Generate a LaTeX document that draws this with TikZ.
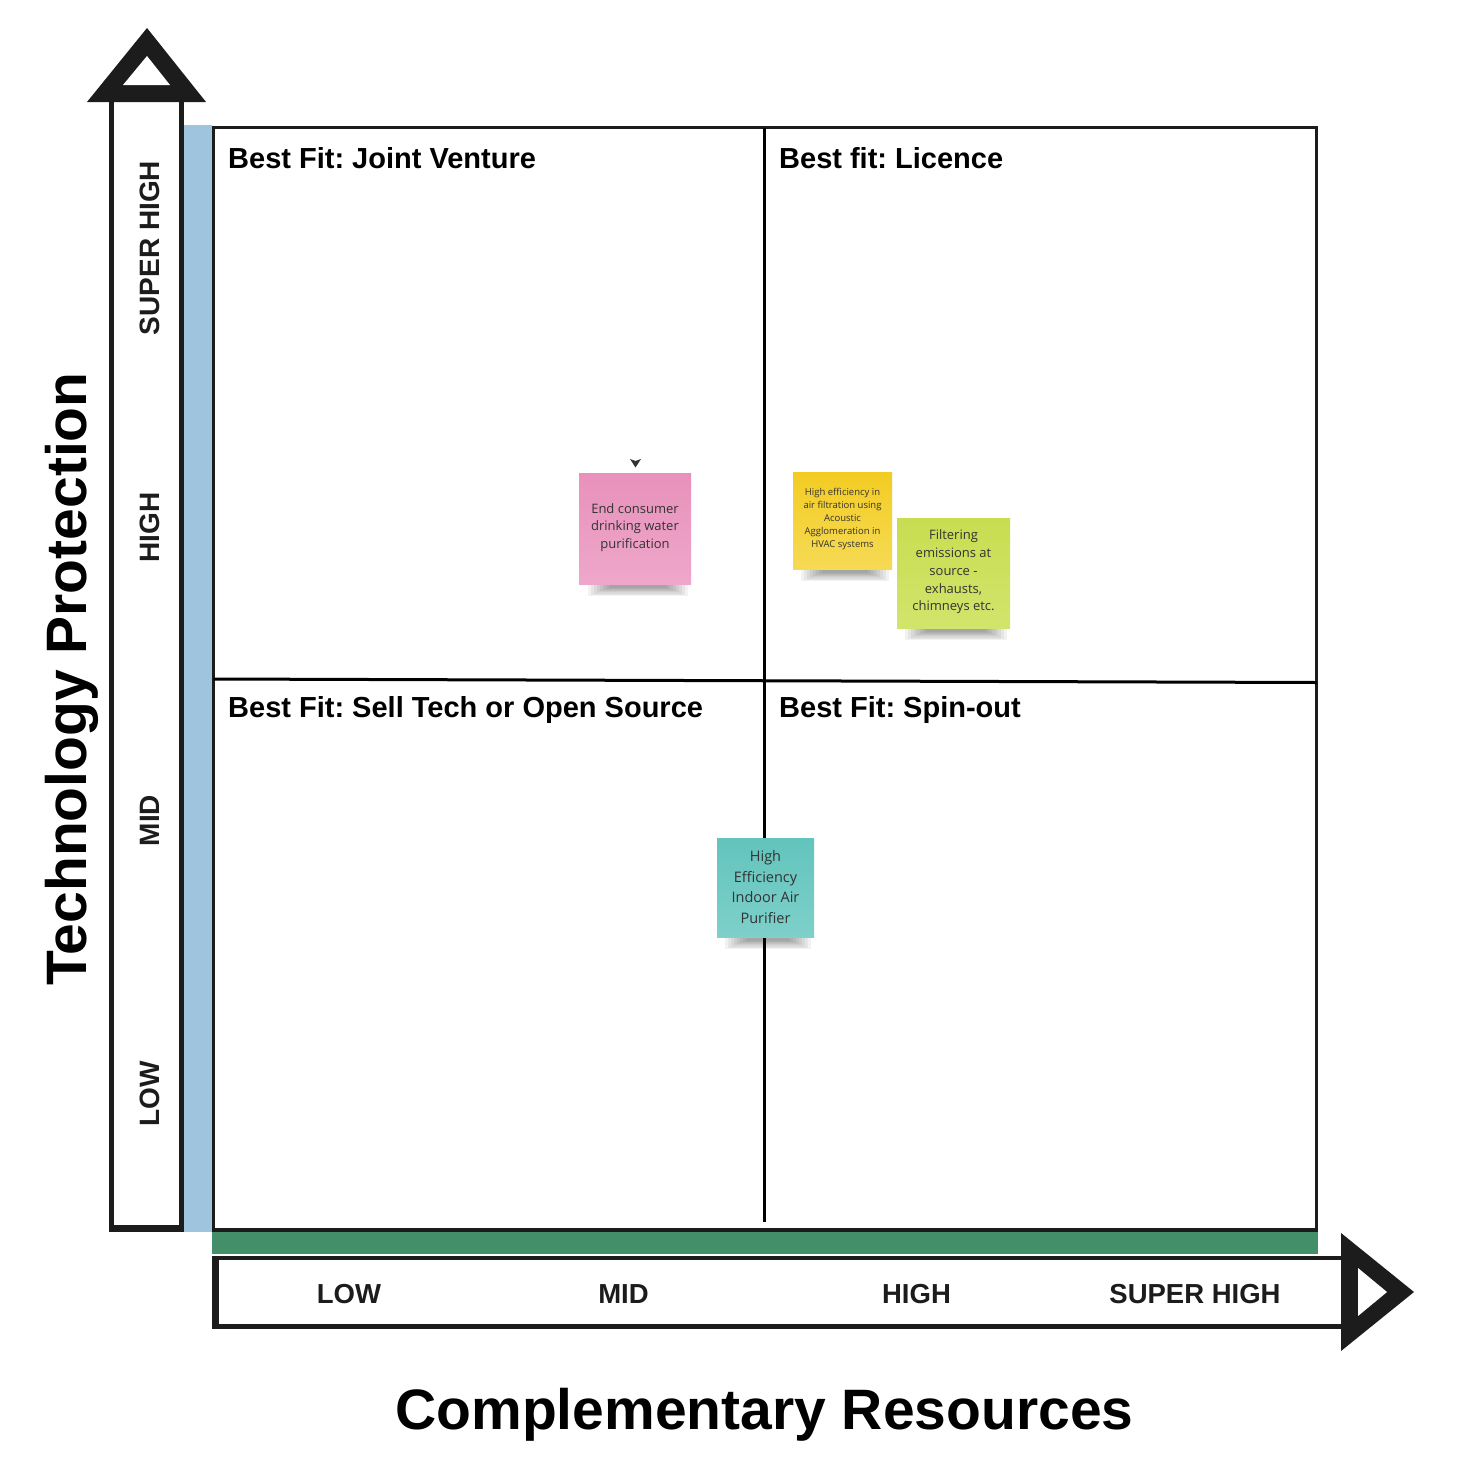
\documentclass[tikz,border=0pt]{standalone}
\usepackage{fontspec}
\setmainfont{Liberation Sans}
\newfontfamily\notefont{Open Sans}
\frenchspacing
\definecolor{axisblack}{HTML}{1C1C1C}
\definecolor{barblue}{HTML}{9FC4DD}
\definecolor{bargreen}{HTML}{438F69}
\definecolor{pinktop}{HTML}{E891BB}
\definecolor{pinkbot}{HTML}{EEA7CA}
\definecolor{yeltop}{HTML}{F3CC22}
\definecolor{yelbot}{HTML}{F6DA55}
\definecolor{limetop}{HTML}{C8DD50}
\definecolor{limebot}{HTML}{D3E46C}
\definecolor{tealtop}{HTML}{62C4BD}
\definecolor{tealbot}{HTML}{7ED0CA}
\definecolor{notetext}{HTML}{333333}
\newcommand{\noteshadow}[3]{%
  \foreach \k in {0,...,7}{%
    \fill[black,opacity=0.05] ({#1+4+3*\k},{#3-2}) rectangle ({#2-4-3*\k},{#3+12-1.2*\k});}}
\tikzset{
  qtitle/.style={anchor=base west, inner sep=0pt, font=\fontsize{29}{35}\selectfont\bfseries, text=black},
  axlabel/.style={anchor=base, inner sep=0pt, font=\fontsize{27.5}{33}\selectfont\bfseries, text=axisblack},
  vlabel/.style={anchor=base, inner sep=0pt, rotate=90, font=\fontsize{28}{33}\selectfont\bfseries, text=axisblack},
  bigtitle/.style={anchor=base, inner sep=0pt, font=\fontsize{57}{68}\selectfont\bfseries, text=black},
  notebox/.style={draw=none, inner sep=0pt},
  notetxt/.style={inner sep=0pt, align=center, text=notetext},
  frame/.style={draw=axisblack, line width=3.5pt},
  divider/.style={draw=black, line width=3pt},
}
\begin{document}
\begin{tikzpicture}[x=1pt,y=-1pt]
\useasboundingbox (0,0) rectangle (1469,1472);
\fill[white] (0,0) rectangle (1469,1472);

% coloured bars
\fill[barblue] (184,125) rectangle (212,1232);
\fill[bargreen] (212,1232) rectangle (1318,1254);

% vertical axis arrow
\draw[axisblack, line width=5pt] (111,102) -- (111,1228) -- (181,1228) -- (181,102);
\draw[axisblack, line width=7pt] (108.5,1228) -- (183.5,1228);
\fill[axisblack] (87,102) -- (206,102) -- (147,28) -- cycle;
\fill[white] (123,85) -- (170,85) -- (147,56) -- cycle;

% horizontal axis arrow
\draw[axisblack, line width=4.5pt] (1341,1258) -- (215.5,1258);
\draw[axisblack, line width=5pt] (1341,1326.5) -- (215.5,1326.5);
\draw[axisblack, line width=7pt] (215.5,1255.75) -- (215.5,1329);
\fill[axisblack] (1341,1233) -- (1341,1351) -- (1414,1292) -- cycle;
\fill[white] (1358,1268) -- (1358,1316) -- (1387,1292) -- cycle;

% grid
\draw[frame] (213.5,127.5) rectangle (1316.5,1230);
\draw[divider] (764,127.5) -- (764,1222);
\draw[divider] (213.5,679) -- (1316.5,682.5);

% quadrant titles
\node[qtitle] (q1) at (228,168) {Best Fit: Joint Venture};
\node[qtitle] (q2) at (779,168) {Best fit: Licence};
\node[qtitle] (q3) at (228,717) {Best Fit: Sell Tech or Open Source};
\node[qtitle] (q4) at (779,717) {Best Fit: Spin-out};

% axis labels
\node[vlabel] (vsh) at (159,248) {SUPER HIGH};
\node[vlabel] (vh) at (159,527.5) {HIGH};
\node[vlabel] (vm) at (159,820.5) {MID};
\node[vlabel] (vl) at (159,1093.5) {LOW};
\node[axlabel] (hl) at (349,1303) {LOW};
\node[axlabel] (hm) at (623.5,1303) {MID};
\node[axlabel] (hh) at (916.5,1303) {HIGH};
\node[axlabel] (hsh) at (1195,1303) {SUPER HIGH};

\node[bigtitle, rotate=90] (ytitle) at (86,679) {Technology Protection};
\node[bigtitle] (xtitle) at (764.5,1429) {Complementary Resources};

% sticky notes
\noteshadow{584}{692}{584}
\node[notebox, minimum width=112pt, minimum height=111pt, top color=pinktop, bottom color=pinkbot] (pink) at (635,528.5) {};
\node[notetxt, font=\notefont\fontsize{13}{17.5}\selectfont] (pinkt) at (635,527.5) {End consumer\\drinking water\\purification};
\fill[notetext] (630,459) -- (635.5,461) -- (641,459) -- (635.5,467.5) -- cycle;

\noteshadow{797}{893}{569}
\node[notebox, minimum width=99pt, minimum height=97pt, top color=yeltop, bottom color=yelbot] (yellow) at (842.5,520.5) {};
\node[notetxt, font=\notefont\fontsize{9.5}{13}\selectfont] (yellowt) at (842.5,519.5) {High efficiency in\\air filtration using\\Acoustic\\Agglomeration in\\HVAC systems};

\noteshadow{901}{1011}{628}
\node[notebox, minimum width=113pt, minimum height=110pt, top color=limetop, bottom color=limebot] (lime) at (953.5,573) {};
\node[notetxt, font=\notefont\fontsize{13}{17.7}\selectfont] (limet) at (953.5,572) {Filtering\\emissions at\\source -\\exhausts,\\chimneys etc.};

\noteshadow{721}{815}{937}
\node[notebox, minimum width=97pt, minimum height=99pt, top color=tealtop, bottom color=tealbot] (teal) at (765.5,887.5) {};
\node[notetxt, font=\notefont\fontsize{14.5}{20.5}\selectfont] (tealt) at (765.5,887) {High\\Efficiency\\Indoor Air\\Purifier};
\end{tikzpicture}
\end{document}
